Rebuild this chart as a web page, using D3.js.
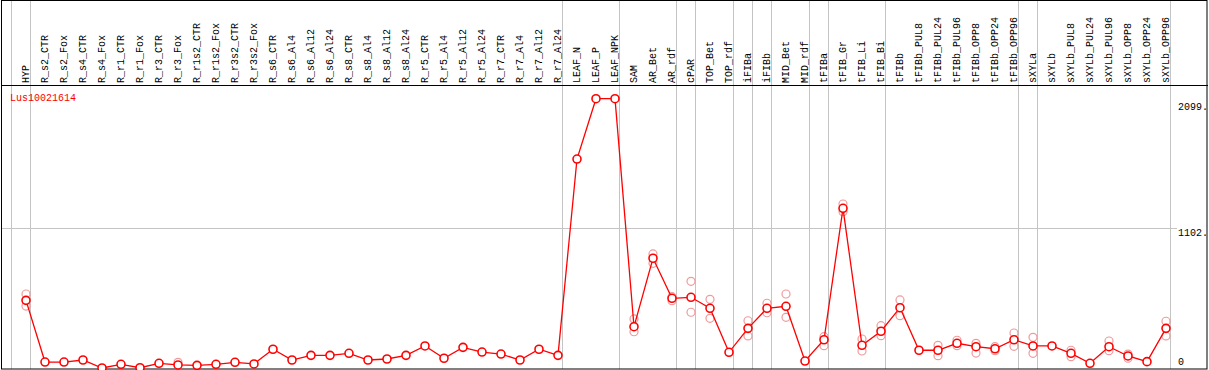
<!DOCTYPE html>
<head>
    <meta charset="utf-8">
    <style>
        body { margin: 0; background: #fff; }
        text { font-family: "Liberation Mono", "DejaVu Sans Mono", monospace; font-size: 10px; }
    </style>
    <script src="https://d3js.org/d3.v7.min.js"></script>
</head>
<body>
    <div id="block"></div>
    <script>

        // tissues / conditions along the x axis
        var categories = ["HYP", "R_s2_CTR", "R_s2_Fox", "R_s4_CTR", "R_s4_Fox", "R_r1_CTR", "R_r1_Fox",
            "R_r3_CTR", "R_r3_Fox", "R_r1s2_CTR", "R_r1s2_Fox", "R_r3s2_CTR", "R_r3s2_Fox",
            "R_s6_CTR", "R_s6_Al4", "R_s6_Al12", "R_s6_Al24", "R_s8_CTR", "R_s8_Al4", "R_s8_Al12",
            "R_s8_Al24", "R_r5_CTR", "R_r5_Al4", "R_r5_Al12", "R_r5_Al24", "R_r7_CTR", "R_r7_Al4",
            "R_r7_Al12", "R_r7_Al24", "LEAF_N", "LEAF_P", "LEAF_NPK", "SAM", "AR_Bet", "AR_rdf",
            "cPAR", "TOP_Bet", "TOP_rdf", "iFIBa", "iFIBb", "MID_Bet", "MID_rdf", "tFIBa",
            "tFIB_Gr", "tFIB_Li", "tFIB_Bi", "tFIBb", "tFIBb_PUL8", "tFIBb_PUL24", "tFIBb_PUL96",
            "tFIBb_OPP8", "tFIBb_OPP24", "tFIBb_OPP96", "sXYLa", "sXYLb", "sXYLb_PUL8",
            "sXYLb_PUL24", "sXYLb_PUL96", "sXYLb_OPP8", "sXYLb_OPP24", "sXYLb_OPP96"];

        // mean expression per category
        var means = [534, 47, 47, 63, 0, 29, 2, 37, 24, 21, 29, 45, 32,
            148, 63, 100, 100, 116, 63, 71, 100, 174, 77, 163, 126, 110, 63, 148, 100,
            1649, 2125, 2125, 326, 866, 550, 558, 471, 124, 313, 471, 487, 55, 223,
            1260, 179, 290, 476, 140, 140, 195, 168, 152, 223, 174, 174, 116,
            37, 168, 95, 50, 313];

        // replicate values (faint circles)
        var replicates = [[584, 489], [], [], [], [], [], [], [], [45], [], [], [], [],
            [], [], [], [], [], [], [], [], [], [], [], [], [], [], [], [],
            [], [], [], [387, 286], [900, 826], [563, 531], [684, 440], [542, 392], [], [373, 253],
            [511, 436], [584, 400], [], [247, 176],
            [1294, 1233], [229, 134], [334, 255], [537, 413], [], [179, 97], [219, 176],
            [195, 118], [168, 137], [276, 171], [242, 116], [], [140, 89],
            [], [213, 137], [110, 77], [], [369, 253]];

        // group separators: drawn after these category indices
        var separators = [-1, 0, 28, 31, 34, 35, 37, 38, 39, 41, 42, 45, 52, 53, 60];

        var tickValues = [0, 1102, 2099];
        var tickLabels = ["0", "1102.", "2099."];

        var geneName = "Lus10021614";

        var w = 1209,
            h = 370;

        var svg = d3.select("#block")
                    .append("svg")
                    .attr("width", w)
                    .attr("height", h);

        var x = d3.scalePoint()
                  .domain(categories)
                  .range([26, 1166]);

        var step = x.step();

        var y = d3.scaleLinear()
                  .domain([0, 2099])
                  .range([368, 102]);

        // separators through header and plot
        svg.append("g")
           .selectAll("line")
           .data(separators)
           .enter()
           .append("line")
           .attr("x1", function(i) { return Math.round(26 + step * i + 4) + 0.5; })
           .attr("x2", function(i) { return Math.round(26 + step * i + 4) + 0.5; })
           .attr("y1", 0)
           .attr("y2", 369)
           .attr("stroke", "#c4c4c4")
           .attr("stroke-width", 1);

        // horizontal grid line at the middle tick
        svg.append("line")
           .attr("x1", 1)
           .attr("x2", 1177)
           .attr("y1", Math.round(y(tickValues[1])) + 0.5)
           .attr("y2", Math.round(y(tickValues[1])) + 0.5)
           .attr("stroke", "#c4c4c4")
           .attr("stroke-width", 1);

        // frame + header rule
        svg.append("rect")
           .attr("x", 1.5)
           .attr("y", 0.5)
           .attr("width", 1205.5)
           .attr("height", 368.5)
           .attr("fill", "none")
           .attr("stroke", "#000")
           .attr("stroke-width", 1);

        svg.append("line")
           .attr("x1", 1)
           .attr("x2", 1208)
           .attr("y1", 85.5)
           .attr("y2", 85.5)
           .attr("stroke", "#000")
           .attr("stroke-width", 1.2);

        // rotated category labels
        svg.append("g")
           .selectAll("text")
           .data(categories)
           .enter()
           .append("text")
           .attr("transform", function(d) { return "translate(" + (x(d) + 2.5) + ",83) rotate(-90)"; })
           .attr("fill", "#000")
           .text(function(d) { return d; });

        // gene name
        svg.append("text")
           .attr("x", 10)
           .attr("y", 101)
           .attr("fill", "red")
           .text(geneName);

        // right hand value labels
        svg.append("g")
           .selectAll("text")
           .data(tickValues)
           .enter()
           .append("text")
           .attr("x", 1178)
           .attr("y", function(d) { return Math.min(y(d) + 8, 365); })
           .attr("fill", "#000")
           .text(function(d, i) { return tickLabels[i]; });

        // replicate circles
        var reps = [];
        replicates.forEach(function(r, i) {
            r.forEach(function(v) { reps.push({ cat: categories[i], value: v }); });
        });

        svg.append("g")
           .selectAll("circle")
           .data(reps)
           .enter()
           .append("circle")
           .attr("cx", function(d) { return x(d.cat); })
           .attr("cy", function(d) { return y(d.value); })
           .attr("r", 4)
           .attr("fill", "none")
           .attr("stroke", "#f09a9a")
           .attr("stroke-width", 1.2);

        // mean line
        var line = d3.line()
                     .x(function(d, i) { return x(categories[i]); })
                     .y(function(d) { return y(d); });

        svg.append("path")
           .datum(means)
           .attr("d", line)
           .attr("fill", "none")
           .attr("stroke", "red")
           .attr("stroke-width", 1.3);

        svg.append("g")
           .selectAll("circle")
           .data(means)
           .enter()
           .append("circle")
           .attr("cx", function(d, i) { return x(categories[i]); })
           .attr("cy", function(d) { return y(d); })
           .attr("r", 4)
           .attr("fill", "white")
           .attr("stroke", "red")
           .attr("stroke-width", 1.6);

    </script>
</body>
